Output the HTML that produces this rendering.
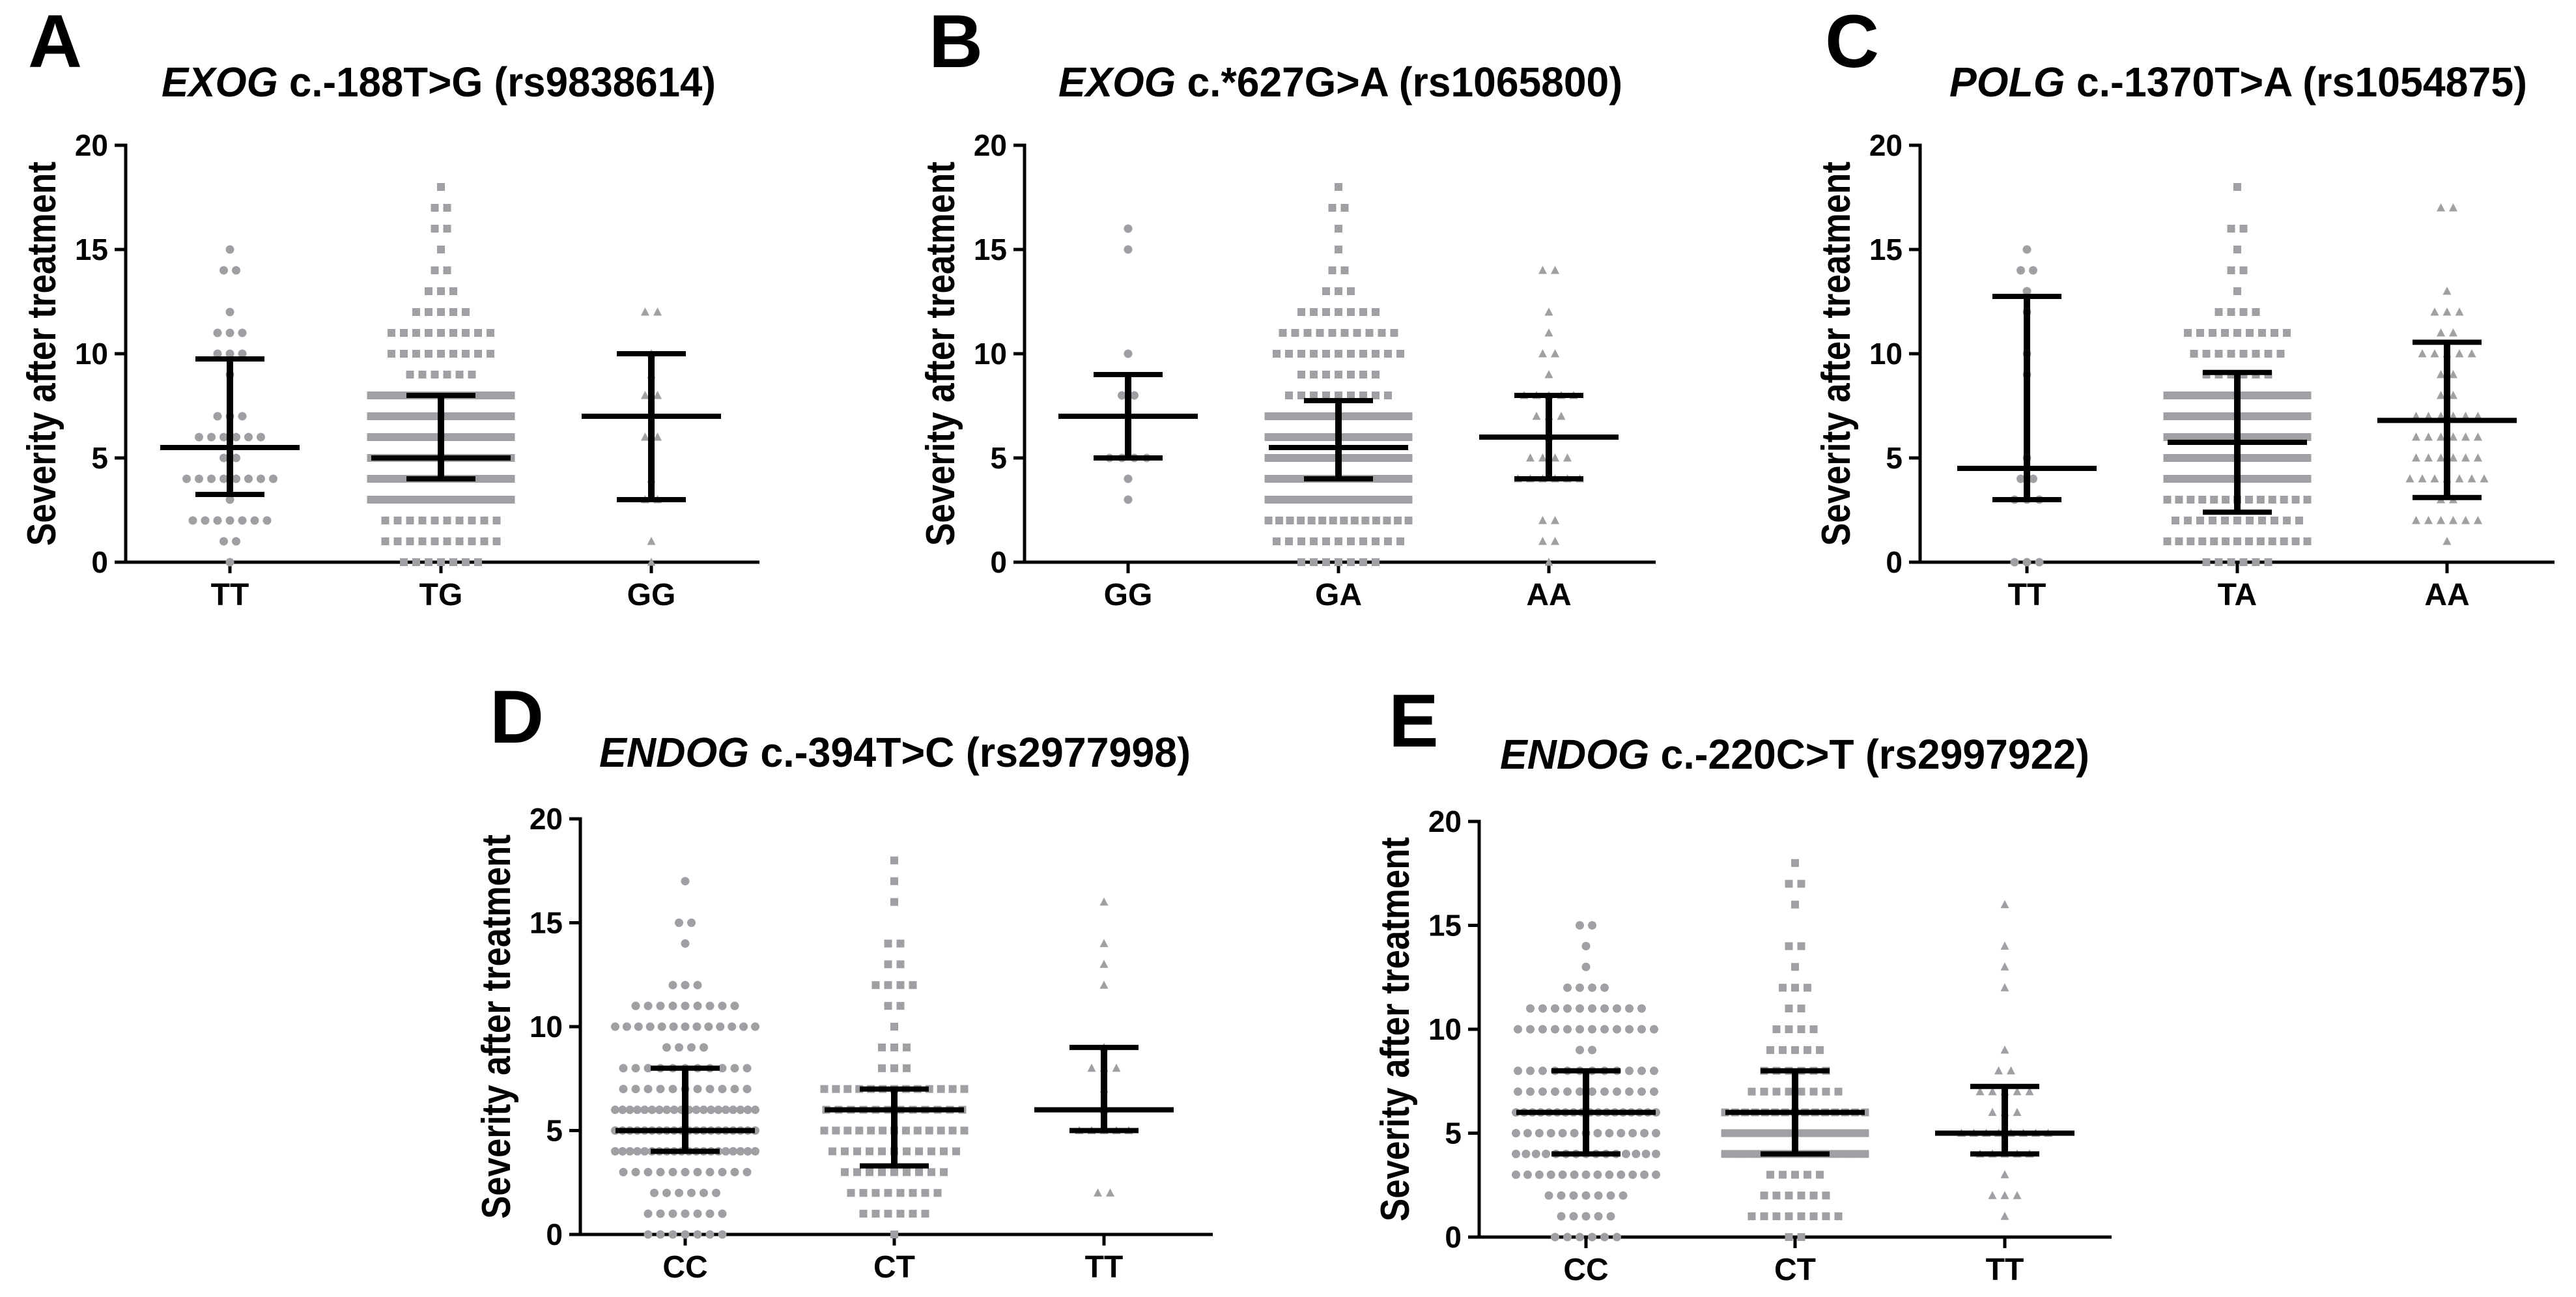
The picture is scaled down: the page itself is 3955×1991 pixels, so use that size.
<!DOCTYPE html>
<html><head><meta charset="utf-8">
<style>
html,body{margin:0;padding:0;background:#fff;}
svg{display:block;}
text{font-family:"Liberation Sans Narrow","Liberation Sans",sans-serif;font-weight:bold;fill:#000;}
</style></head>
<body>
<svg id="fig" width="3955" height="1991" viewBox="0 0 3955 1991" xmlns="http://www.w3.org/2000/svg"></svg>
<script>
// counts of patients per severity score (index = score 0..18)
const aTT=[1,2,7,1,8,2,6,3,0,1,3,3,1,0,2,1,0,0,0];
const aTG=[7,10,10,20,20,20,20,20,20,6,9,9,5,3,2,1,2,2,1];
const aGG=[1,1,0,2,1,0,2,0,2,1,1,0,2,0,0,0,0,0,0];
const bGG=[0,0,0,1,1,4,0,0,2,0,1,0,0,0,0,1,1,0,0];
const bGA=[7,11,14,22,22,22,20,22,9,7,11,10,7,3,2,1,1,2,1];
const bAA=[1,2,2,0,6,4,1,3,5,1,2,1,1,0,2,0,0,0,0];
const cTT=[3,0,0,3,2,1,0,0,0,1,1,0,1,1,2,1,0,0,0];
const cTA=[6,13,11,13,20,22,22,20,22,6,8,9,4,1,2,1,2,0,1];
const cAA=[0,1,6,2,7,6,6,6,2,2,5,2,3,1,0,0,0,2,0];
const dCC=[7,7,6,11,20,20,20,11,11,4,13,9,3,0,1,2,0,1,0];
const dCT=[1,6,8,9,11,13,12,13,3,3,1,2,4,2,2,0,1,1,1];
const dTT=[0,0,2,0,0,5,1,1,3,1,0,0,1,1,1,0,1,0,0];
const eCC=[6,5,7,13,15,13,18,12,12,2,12,10,4,1,1,2,0,0,0];
const eCT=[2,8,6,5,20,20,15,8,6,5,4,2,3,1,2,0,1,2,1];
const eTT=[0,1,3,1,5,8,3,5,2,1,0,0,1,1,1,0,1,0,0];
// summary stats: [centre, lower, upper]
const aStats=[[5.5,3.25,9.75],[5,4,8],[7,3,10]];
const bStats=[[7,5,9],[5.5,4,7.75],[6,4,8]];
const cStats=[[4.5,3,12.75],[5.75,2.4,9.1],[6.8,3.1,10.55]];
const dStats=[[5,4,8],[6,3.3,7],[6,5,9]];
const eStats=[[6,4,8],[6,4,8],[5,4,7.25]];
const aCats=["TT","TG","GG"], bCats=["GG","GA","AA"], cCats=["TT","TA","AA"], dCats=["CC","CT","TT"], eCats=["CC","CT","TT"];
const yTicks=[0,5,10,15,20];

const NS="http://www.w3.org/2000/svg";
const svg=document.getElementById('fig');
function mk(tag,attrs,parent){const e=document.createElementNS(NS,tag);for(const k in attrs)e.setAttribute(k,attrs[k]);(parent||svg).appendChild(e);return e;}

const panels=[
 {id:'a',letter:'A',gene:'EXOG',rest:' c.-188T>G (rs9838614)',lx:43,ly:103,tx0:248,tx1:1099,ty:148,ax:193,y20:223,y0:863,xe:1166,cx:[353,677,1000],data:[aTT,aTG,aGG],stats:aStats,cats:aCats},
 {id:'b',letter:'B',gene:'EXOG',rest:' c.*627G>A (rs1065800)',lx:1426,ly:103,tx0:1625,tx1:2491,ty:148,ax:1573,y20:223,y0:863,xe:2542,cx:[1732,2055,2378],data:[bGG,bGA,bAA],stats:bStats,cats:bCats},
 {id:'c',letter:'C',gene:'POLG',rest:' c.-1370T>A (rs1054875)',lx:2802,ly:103,tx0:2993,tx1:3880,ty:148,ax:2948,y20:223,y0:863,xe:3922,cx:[3112,3435,3757],data:[cTT,cTA,cAA],stats:cStats,cats:cCats},
 {id:'d',letter:'D',gene:'ENDOG',rest:' c.-394T>C (rs2977998)',lx:752,ly:1140,tx0:920,tx1:1828,ty:1177,ax:891,y20:1257,y0:1895,xe:1862,cx:[1052,1373,1695],data:[dCC,dCT,dTT],stats:dStats,cats:dCats},
 {id:'e',letter:'E',gene:'ENDOG',rest:' c.-220C>T (rs2997922)',lx:2132,ly:1146,tx0:2303,tx1:3208,ty:1180,ax:2271,y20:1261,y0:1899,xe:3242,cx:[2435,2756,3078],data:[eCC,eCT,eTT],stats:eStats,cats:eCats}
];
const GRAY='#a0a0a4';

panels.forEach(p=>{
  const g=mk('g',{});
  
  
  const Y=v=>p.y0+(p.y20-p.y0)*v/20;
  const lt=mk('text',{x:p.lx,y:p.ly,'font-size':115,'font-family':'Liberation Sans'},g);
  lt.textContent=p.letter;
  
  
  const tt=mk('text',{x:p.tx0,y:p.ty,'font-size':64,textLength:p.tx1-p.tx0,lengthAdjust:'spacingAndGlyphs'},g);
  
  
  const ts1=mk('tspan',{'font-style':'italic'},tt); ts1.textContent=p.gene;
  const ts2=mk('tspan',{},tt); ts2.textContent=p.rest;
  const yt=mk('text',{x:0,y:0,'font-size':62,'text-anchor':'middle',textLength:590,lengthAdjust:'spacingAndGlyphs',transform:`translate(${p.ax-108},${(p.y0+p.y20)/2}) rotate(-90)`},g);
  yt.textContent='Severity after treatment';
  
  
  const ya=mk('line',{x1:p.ax,y1:p.y20-2.5,x2:p.ax,y2:p.y0+2.5,stroke:'#000','stroke-width':5},g);
  
  
  const xa=mk('line',{x1:p.ax-2.5,y1:p.y0,x2:p.xe,y2:p.y0,stroke:'#000','stroke-width':5},g);
  
  
  yTicks.forEach(t=>{
    const tk=mk('line',{x1:p.ax-17,y1:Y(t),x2:p.ax,y2:Y(t),stroke:'#000','stroke-width':5},g);
    
    
    const tl=mk('text',{x:p.ax-27,y:Y(t)+16,'font-size':46,'text-anchor':'end','font-family':'Liberation Sans'},g);
    tl.textContent=t;
    
    
  });
  p.cats.forEach((c,i)=>{
    const tk=mk('line',{x1:p.cx[i],y1:p.y0,x2:p.cx[i],y2:p.y0+17,stroke:'#000','stroke-width':5},g);
    
    
    const cl=mk('text',{x:p.cx[i],y:p.y0+66,'font-size':48,'text-anchor':'middle','font-family':'Liberation Sans'},g);
    cl.textContent=c;
    
    
  });
  p.data.forEach((counts,gi)=>{
    const grp=mk('g',{fill:GRAY},g);
    
    
    counts.forEach((n,v)=>{
      if(!n)return;
      const sp=n>1?Math.min(19,215/(n-1)):0;
      for(let k=0;k<n;k++){
        const x=p.cx[gi]+(k-(n-1)/2)*sp, y=Y(v);
        let m;
        if(gi===0) m=mk('circle',{cx:x,cy:y,r:6.5},grp);
        else if(gi===1) m=mk('rect',{x:x-6,y:y-6,width:12,height:12},grp);
        else m=mk('polygon',{points:`${x},${y-7} ${x-6.5},${y+5.5} ${x+6.5},${y+5.5}`},grp);
        
        
      }
    });
  });
  p.stats.forEach((s,gi)=>{
    const eg=mk('g',{stroke:'#000'},g);
    
    
    const x=p.cx[gi];
    mk('line',{x1:x,y1:Y(s[1]),x2:x,y2:Y(s[2]),'stroke-width':10},eg);
    mk('line',{x1:x-53,y1:Y(s[1]),x2:x+53,y2:Y(s[1]),'stroke-width':8},eg);
    mk('line',{x1:x-53,y1:Y(s[2]),x2:x+53,y2:Y(s[2]),'stroke-width':8},eg);
    mk('line',{x1:x-107,y1:Y(s[0]),x2:x+107,y2:Y(s[0]),'stroke-width':8},eg);
  });
});
</script>
</body></html>
